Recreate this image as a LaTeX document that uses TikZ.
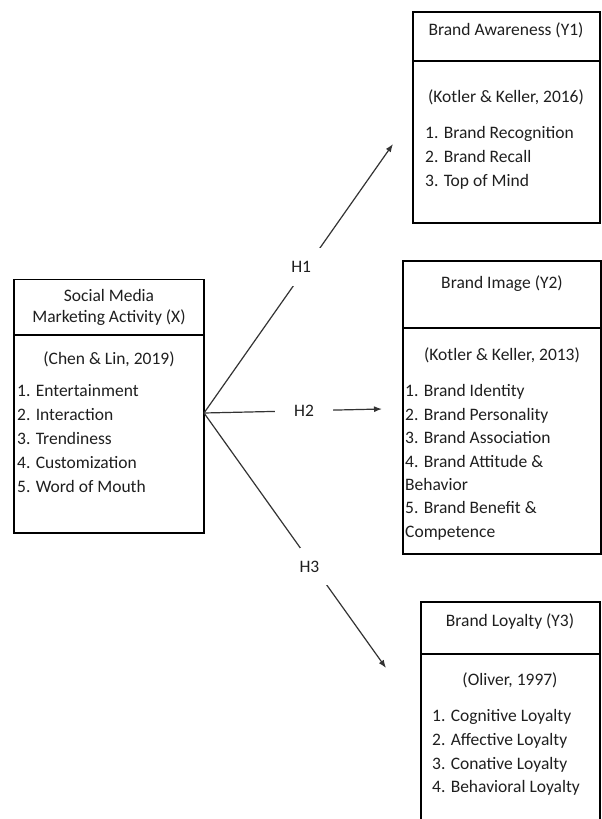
\documentclass[tikz,border=0pt]{standalone}
\usepackage{fontspec}
\setmainfont{Carlito}
\usetikzlibrary{arrows.meta}
\begin{document}
\begin{tikzpicture}[x=1pt,y=-1pt,
  box/.style={draw=black, line width=1.3pt, inner sep=0pt},
  txt/.style={inner sep=0pt, font=\fontsize{17.5}{20}\selectfont, text=black!88, text height=11.5pt, text depth=0.5pt},
  ttl/.style={txt, anchor=center},
  item/.style={txt, anchor=west},
  conn/.style={draw=black!80, line width=1.2pt},
  arr/.style={conn, -{Latex[length=8pt,width=6pt]}},
  hlab/.style={txt, fill=white}
]
\useasboundingbox[fill=white] (0,0) rectangle (602,819);

% boxes
\node[box, minimum width=190pt, minimum height=253.5pt] (X) at (109,406.25) {};
\draw[box] (14,335) -- (204,335);
\node[box, minimum width=187pt, minimum height=211pt] (Y1) at (506.5,117.5) {};
\draw[box] (413,61) -- (600,61);
\node[box, minimum width=198pt, minimum height=293pt] (Y2) at (502,407.5) {};
\draw[box] (403,328) -- (601,328);
\draw[box] (421,830) |- (600,602) -- (600,830);
\draw[box] (421,654) -- (600,654);

% X texts
\node[ttl] (xt1) at (109,296) {Social Media};
\node[ttl] (xt2) at (109,317) {Marketing Activity (X)};
\node[ttl] (xs) at (109,359) {(Chen \& Lin, 2019)};
\node[item] (x1) at (17,391) {1. Entertainment};
\node[item] (x2) at (17,415) {2. Interaction};
\node[item] (x3) at (17,439) {3. Trendiness};
\node[item] (x4) at (17,463) {4. Customization};
\node[item] (x5) at (17,487) {5. Word of Mouth};

% Y1 texts
\node[ttl] (a0) at (506,30) {Brand Awareness (Y1)};
\node[ttl] (as) at (506,97) {(Kotler \& Keller, 2016)};
\node[item] (a1) at (425,133) {1. Brand Recognition};
\node[item] (a2) at (425,157) {2. Brand Recall};
\node[item] (a3) at (425,181) {3. Top of Mind};

% Y2 texts
\node[ttl] (b0) at (502,283) {Brand Image (Y2)};
\node[ttl] (bs) at (502,355) {(Kotler \& Keller, 2013)};
\node[item] (b1) at (405,391) {1. Brand Identity};
\node[item] (b2) at (405,415) {2. Brand Personality};
\node[item] (b3) at (405,438) {3. Brand Association};
\node[item] (b4) at (405,462) {4. Brand Attitude \&};
\node[item] (b4b) at (405,485) {Behavior};
\node[item] (b5) at (405,508) {5. Brand Benefit \&};
\node[item] (b5b) at (405,532) {Competence};

% Y3 texts
\node[ttl] (c0) at (510,621) {Brand Loyalty (Y3)};
\node[ttl] (cs) at (510,680) {(Oliver, 1997)};
\node[item] (c1) at (432,716) {1. Cognitive Loyalty};
\node[item] (c2) at (432,740) {2. Affective Loyalty};
\node[item] (c3) at (432,764) {3. Conative Loyalty};
\node[item] (c4) at (432,787) {4. Behavioral Loyalty};

% connectors
\coordinate (O) at (204,413);
\coordinate (t1) at (393,144);
\coordinate (t2) at (382,409);
\coordinate (t3) at (386,668);
\draw[arr] (O) -- node[hlab, pos=0.541, minimum width=30pt, minimum height=38pt, text width=30pt, align=left] (h1) {H1} (t1);
\draw[arr] (O) -- node[hlab, pos=0.562, minimum width=58pt, minimum height=14pt] (h2) {H2} (t2);
\draw[arr] (O) -- node[hlab, pos=0.602, minimum width=28pt, minimum height=37pt, text width=28pt, align=left] (h3) {H3} (t3);
\end{tikzpicture}
\end{document}
